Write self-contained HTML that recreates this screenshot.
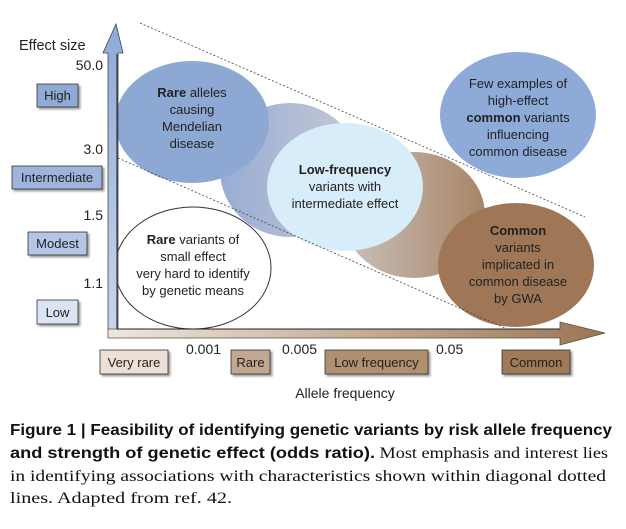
<!DOCTYPE html>
<html><head><meta charset="utf-8"><style>
html,body{margin:0;padding:0;background:#fff;}
svg{display:block;font-family:"Liberation Sans",sans-serif;}
</style></head><body>
<svg width="626" height="529" viewBox="0 0 626 529" xmlns="http://www.w3.org/2000/svg">
<defs>
<linearGradient id="yax" x1="0" y1="1" x2="0" y2="0"><stop offset="0" stop-color="#c9d4ea"/><stop offset="1" stop-color="#8eaad6"/></linearGradient>
<linearGradient id="xax" x1="0" y1="0" x2="1" y2="0"><stop offset="0" stop-color="#efe7df"/><stop offset="1" stop-color="#9c7452"/></linearGradient>
<linearGradient id="g2" x1="0" y1="0" x2="1" y2="0"><stop offset="0" stop-color="#98acd4"/><stop offset="1" stop-color="#c7c9d4"/></linearGradient>
<linearGradient id="g4" x1="0" y1="0" x2="1" y2="0"><stop offset="0" stop-color="#c9c1bc"/><stop offset="1" stop-color="#a88567"/></linearGradient>
<filter id="sh" x="-20%" y="-20%" width="150%" height="160%"><feDropShadow dx="2" dy="2" stdDeviation="1" flood-color="#555" flood-opacity="0.6"/></filter>
</defs>
<ellipse cx="290" cy="170" rx="70" ry="67" fill="url(#g2)"/>
<ellipse cx="192" cy="122" rx="77" ry="61" fill="#8ea8d4"/>
<ellipse cx="414" cy="215" rx="71" ry="63" fill="url(#g4)"/>
<ellipse cx="345" cy="187" rx="78" ry="64" fill="#d7edf9"/>
<ellipse cx="516" cy="265" rx="78" ry="62" fill="#9f7757"/>
<ellipse cx="518" cy="115" rx="78" ry="63" fill="#8daad9"/>
<ellipse cx="193" cy="268" rx="78" ry="61" fill="#fff" stroke="#333" stroke-width="1"/>
<line x1="140" y1="23" x2="585" y2="217" stroke="#444" stroke-width="0.8" stroke-dasharray="2,2"/>
<line x1="118" y1="158" x2="505" y2="328" stroke="#444" stroke-width="0.8" stroke-dasharray="2,2"/>
<polygon points="108,53 103,53 116,24 123,53 118,53 118,330 108,330" fill="url(#yax)" stroke="#445" stroke-width="0.8"/>
<polygon points="108,329 560,329 560,322 605,333 560,345 560,338 108,338" fill="url(#xax)" stroke="#554" stroke-width="0.8"/>
<line x1="117" y1="54" x2="117" y2="329" stroke="#222" stroke-width="1"/>
<line x1="117" y1="329" x2="560" y2="329" stroke="#222" stroke-width="1"/>
<g font-size="14" fill="#222">
<text x="19" y="50" font-size="14.5">Effect size</text>
<text x="103" y="70" text-anchor="end">50.0</text>
<text x="103" y="154" text-anchor="end">3.0</text>
<text x="103" y="220" text-anchor="end">1.5</text>
<text x="103" y="288" text-anchor="end">1.1</text>
<text x="186" y="354">0.001</text>
<text x="282" y="354">0.005</text>
<text x="436" y="354">0.05</text>
<text x="345" y="398" text-anchor="middle">Allele frequency</text>
</g>
<g font-size="13" fill="#222" stroke="#333" stroke-width="0.8">
<rect x="37" y="84" width="41" height="23" fill="#90aad6" filter="url(#sh)"/>
<rect x="12" y="166" width="90" height="23" fill="#9db4dc" filter="url(#sh)"/>
<rect x="28" y="232" width="59" height="23" fill="#b4c5e6" filter="url(#sh)"/>
<rect x="37" y="300" width="41" height="24" fill="#dbe4f4" filter="url(#sh)"/>
<rect x="100" y="350" width="68" height="24" fill="#ece0d6" filter="url(#sh)"/>
<rect x="231" y="350" width="39" height="24" fill="#c2a690" filter="url(#sh)"/>
<rect x="325" y="350" width="103" height="24" fill="#b0906f" filter="url(#sh)"/>
<rect x="502" y="350" width="68" height="24" fill="#a07a57" filter="url(#sh)"/>
</g>
<g font-size="13" fill="#222" text-anchor="middle">
<text x="57.5" y="100">High</text>
<text x="57" y="182">Intermediate</text>
<text x="57.5" y="248">Modest</text>
<text x="57.5" y="317">Low</text>
<text x="134" y="367">Very rare</text>
<text x="250.5" y="367">Rare</text>
<text x="376.5" y="367">Low frequency</text>
<text x="536" y="367">Common</text>
</g>
<g font-size="13" fill="#222" text-anchor="middle">
<text x="192" y="97"><tspan font-weight="bold">Rare</tspan> alleles</text>
<text x="192" y="114">causing</text>
<text x="192" y="131">Mendelian</text>
<text x="192" y="148">disease</text>
<text x="345" y="174" font-weight="bold">Low-frequency</text>
<text x="345" y="191">variants with</text>
<text x="345" y="208">intermediate effect</text>
<text x="518" y="88">Few examples of</text>
<text x="518" y="105">high-effect</text>
<text x="518" y="122"><tspan font-weight="bold">common</tspan> variants</text>
<text x="518" y="139">influencing</text>
<text x="518" y="156">common disease</text>
<text x="518" y="235" font-weight="bold">Common</text>
<text x="518" y="252">variants</text>
<text x="518" y="269">implicated in</text>
<text x="518" y="286">common disease</text>
<text x="518" y="303">by GWA</text>
<text x="193" y="244"><tspan font-weight="bold">Rare</tspan> variants of</text>
<text x="193" y="261">small effect</text>
<text x="193" y="278">very hard to identify</text>
<text x="193" y="295">by genetic means</text>
</g>
<g font-size="16" fill="#111">
<text x="10" y="435" font-weight="bold" textLength="602" lengthAdjust="spacingAndGlyphs">Figure 1 | Feasibility of identifying genetic variants by risk allele frequency</text>
<text x="10" y="458" textLength="598" lengthAdjust="spacingAndGlyphs"><tspan font-weight="bold">and strength of genetic effect (odds ratio).</tspan><tspan font-family="Liberation Serif,serif">  Most emphasis and interest lies</tspan></text>
<text x="10" y="481" font-family="Liberation Serif,serif" textLength="596" lengthAdjust="spacingAndGlyphs">in identifying associations with characteristics shown within diagonal dotted</text>
<text x="10" y="503" font-family="Liberation Serif,serif" textLength="222" lengthAdjust="spacingAndGlyphs">lines. Adapted from ref. 42.</text>
</g>
</svg>
</body></html>
